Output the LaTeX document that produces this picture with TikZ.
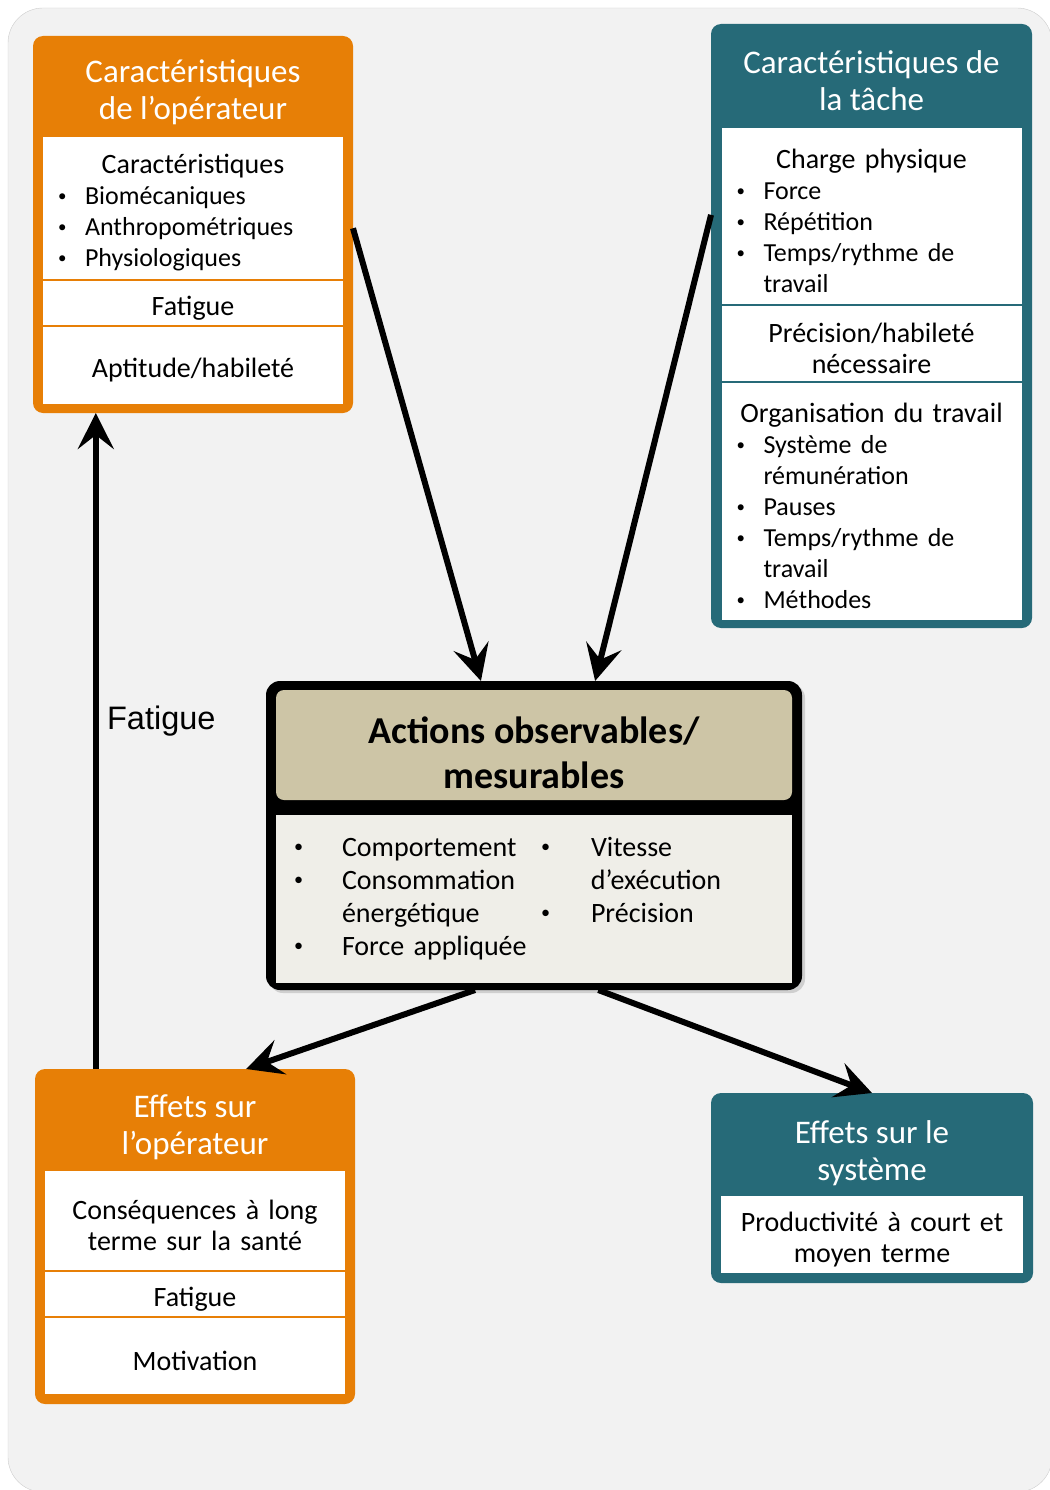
\documentclass[tikz,border=0pt]{standalone}
\usepackage{fontspec}
\setmainfont{Carlito}
\newfontfamily\arialfont{Liberation Sans}
\usepackage{xcolor}
\usepackage{graphicx}
\usepackage{tikz}
\usetikzlibrary{positioning,arrows.meta,calc,shadows}

\definecolor{opOrange}{HTML}{E77F06}
\definecolor{taskTeal}{HTML}{266A78}
\definecolor{actTan}{HTML}{CDC5A6}
\definecolor{actBody}{HTML}{EFEEE8}
\definecolor{bgGrey}{HTML}{F2F2F2}
\definecolor{bgLine}{HTML}{CCCCCC}

% bullet lines inside the panels
\newcommand{\bdot}{\raisebox{0.12em}{\scalebox{0.65}{\textbullet}}}
\newcommand{\bl}[1]{\makebox[270pt][l]{\fontsize{26}{31}\selectfont\makebox[27pt][l]{\bdot}#1}}
\newcommand{\bc}[1]{\makebox[270pt][l]{\fontsize{26}{31}\selectfont\hspace*{27pt}#1}}

\begin{document}
\begin{tikzpicture}[
  x=1pt, y=-1pt,
  node distance=2pt,
  frame/.style={rounded corners=10pt, inner sep=0pt, outer sep=0pt},
  head/.style={text=white, align=center, font=\fontsize{33}{37}\selectfont},
  panel/.style={fill=white, inner xsep=15pt, inner ysep=0pt, outer sep=0pt, align=center, text width=270pt,
    font=\fontsize{28}{31}\selectfont, execute at begin node={\rule{0pt}{29pt}}},
  flow/.style={-{Stealth[length=36pt, width=36pt, inset=14pt]}, line width=6pt}
]
\useasboundingbox (0,0) rectangle (1049,1490);
\draw[bgLine, fill=bgGrey, rounded corners=35pt] (8,8) rectangle (1052,1492);

% operator characteristics
\node[frame, fill=opOrange, minimum width=320pt, minimum height=377pt] (op) at (193,224.5) {};
\node[head] (opT) at (193,92) {Caractéristiques\\de l’opérateur};
\node[panel, minimum height=142pt] (op1) at (193,208) {Caractéristiques\\\bl{Biomécaniques}\\\bl{Anthropométriques}\\\bl{Physiologiques}};
\node[panel, minimum height=44pt, below=of op1] (op2) {Fatigue};
\node[panel, minimum height=77pt, below=of op2] (op3) {Aptitude/habileté};

% task characteristics
\node[frame, fill=taskTeal, minimum width=321pt, minimum height=604pt] (task) at (871.5,326) {};
\node[head] (taskT) at (871.5,81) {Caractéristiques de\\la tâche};
\node[panel, minimum height=176pt] (task1) at (871.5,216) {Charge physique\\\bl{Force}\\\bl{Répétition}\\\bl{Temps/rythme de}\\\bc{travail}};
\node[panel, minimum height=75pt, below=of task1] (task2) {Précision/habileté\\nécessaire};
\node[panel, minimum height=237pt, below=of task2] (task3) {Organisation du travail\\\bl{Système de}\\\bc{rémunération}\\\bl{Pauses}\\\bl{Temps/rythme de}\\\bc{travail}\\\bl{Méthodes}};

% observable actions
\node[frame, rounded corners=14pt, fill=black, minimum width=536pt, minimum height=309pt,
  drop shadow={shadow xshift=3pt, shadow yshift=-3pt, opacity=0.3}] (act) at (534,835.5) {};
\node[frame, rounded corners=8pt, fill=actTan, minimum width=516pt, minimum height=110pt, align=center,
  font=\bfseries\fontsize{38}{45}\selectfont] (actT) at (534,745) {\rule{0pt}{43pt}Actions observables/\\mesurables};
\node[fill=actBody, inner xsep=18pt, inner ysep=0pt, outer sep=0pt, minimum width=516pt, minimum height=168pt,
  text width=480pt, align=left, font=\fontsize{28}{33}\selectfont] (actB) at (534,899) {%
  \begin{tabular}{@{}p{48pt}@{}p{199pt}@{}p{50pt}@{}l@{}}
  \bdot & Comportement & \bdot & Vitesse\\
  \bdot & Consommation & & d’exécution\\
  & énergétique & \bdot & Précision\\
  \bdot & Force appliquée & &
  \end{tabular}};

% effects on the operator
\node[frame, fill=opOrange, minimum width=320pt, minimum height=335pt] (eff) at (195,1236.5) {};
\node[head] (effT) at (195,1127.5) {Effets sur\\l’opérateur};
\node[panel, minimum height=99pt] (eff1) at (195,1220.5) {Conséquences à long\\terme sur la santé};
\node[panel, minimum height=44pt, below=of eff1] (eff2) {Fatigue};
\node[panel, minimum height=76pt, below=of eff2] (eff3) {Motivation};

% effects on the system
\node[frame, fill=taskTeal, minimum width=322pt, minimum height=190pt] (sys) at (872,1188) {};
\node[head] (sysT) at (872,1153.5) {Effets sur le\\système};
\node[panel, minimum height=77pt, text width=272pt] (sys1) at (872,1234.5) {Productivité à court et\\moyen terme};

\draw[flow] ($(op.north east)!0.51!(op.south east)$) -- ($(act.north west)!0.401!(act.north east)$);
\draw[flow] ($(task.north west)!0.316!(task.south west)$) -- ($(act.north west)!0.614!(act.north east)$);
\draw[flow] ($(act.south west)!0.39!(act.south east)$) -- ($(eff.north west)!0.66!(eff.north east)$);
\draw[flow] ($(act.south west)!0.62!(act.south east)$) -- (sys.north);
\draw[flow] ($(eff.north west)!0.19!(eff.north east)$) coordinate (fatfoot) -- (fatfoot |- op.south)
  node[pos=0.53, right=5pt, font=\arialfont\fontsize{32.5}{37}\selectfont] (fatlab) {Fatigue};
\end{tikzpicture}
\end{document}
